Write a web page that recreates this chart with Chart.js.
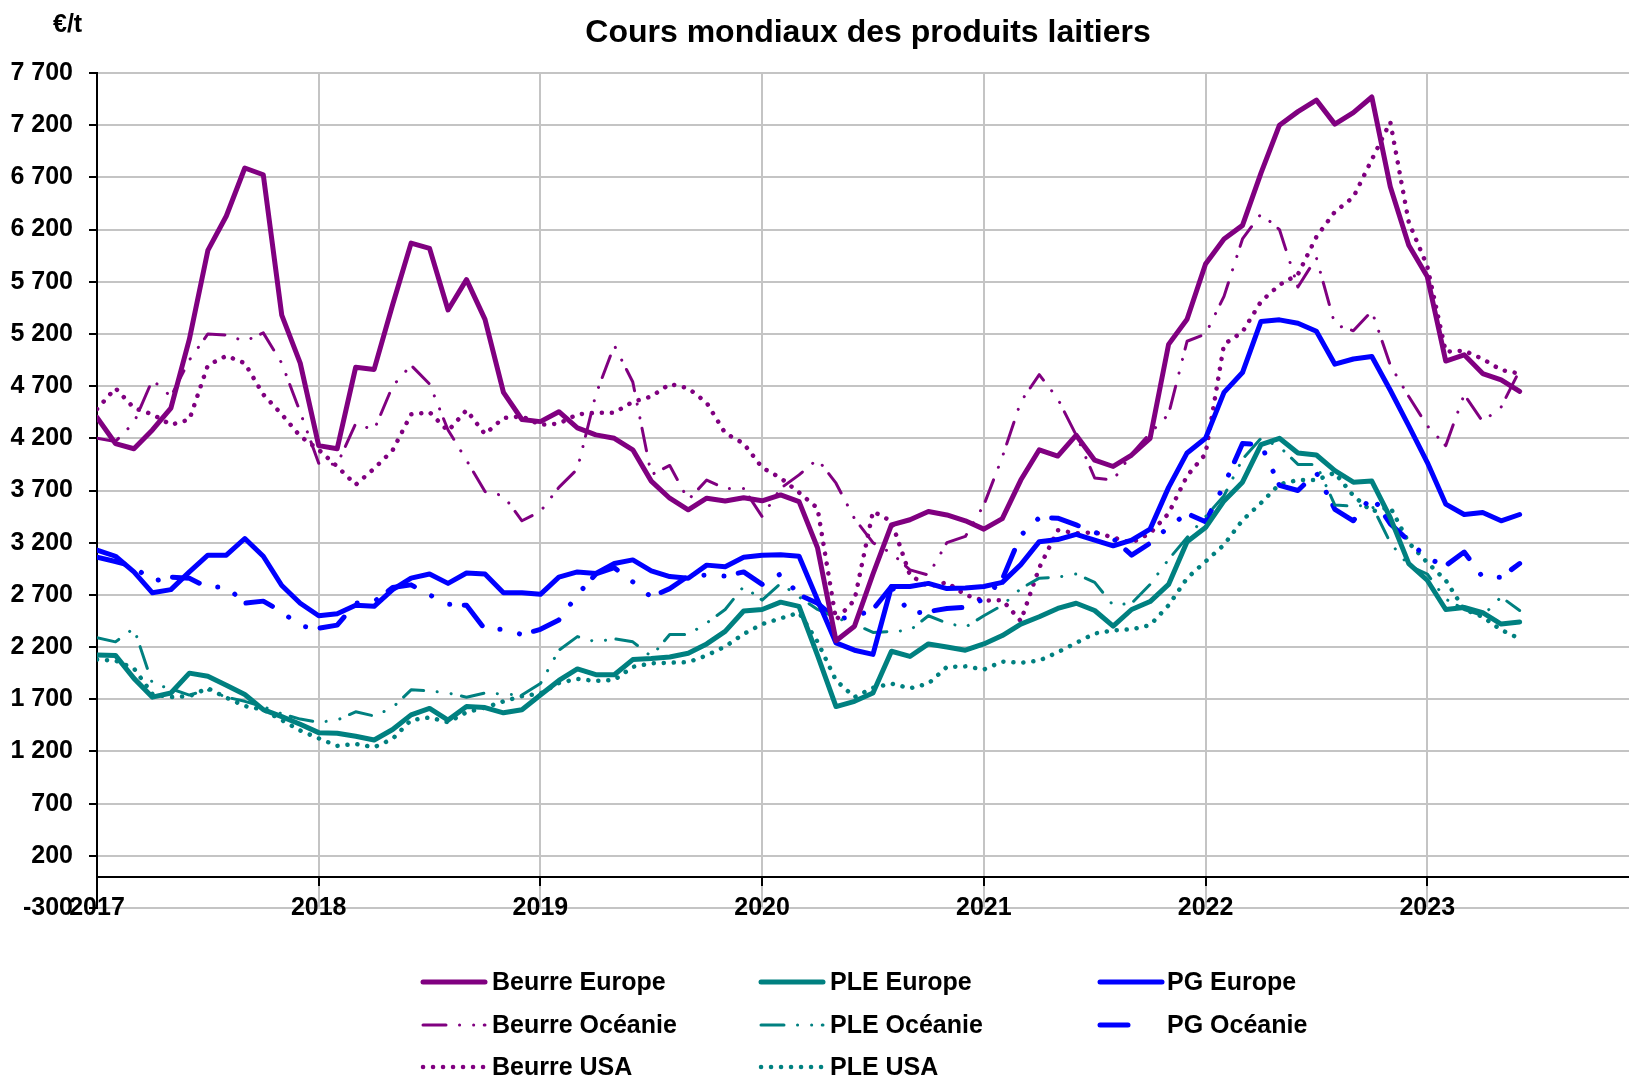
<!DOCTYPE html>
<html>
<head>
<meta charset="utf-8">
<script src="https://cdn.jsdelivr.net/npm/chart.js@4/dist/chart.umd.min.js"></script>
<style>
html,body{margin:0;padding:0;background:#fff;}
#wrap{width:1629px;height:1078px;position:relative;}
canvas{display:block;}
</style>
</head>
<body>
<div id="wrap"><canvas id="c" width="1629" height="1078"></canvas></div>
<script>
// ---------- DATA ----------
const months = [
  "2017-01","2017-02","2017-03","2017-04","2017-05","2017-06","2017-07","2017-08","2017-09","2017-10","2017-11","2017-12",
  "2018-01","2018-02","2018-03","2018-04","2018-05","2018-06","2018-07","2018-08","2018-09","2018-10","2018-11","2018-12",
  "2019-01","2019-02","2019-03","2019-04","2019-05","2019-06","2019-07","2019-08","2019-09","2019-10","2019-11","2019-12",
  "2020-01","2020-02","2020-03","2020-04","2020-05","2020-06","2020-07","2020-08","2020-09","2020-10","2020-11","2020-12",
  "2021-01","2021-02","2021-03","2021-04","2021-05","2021-06","2021-07","2021-08","2021-09","2021-10","2021-11","2021-12",
  "2022-01","2022-02","2022-03","2022-04","2022-05","2022-06","2022-07","2022-08","2022-09","2022-10","2022-11","2022-12",
  "2023-01","2023-02","2023-03","2023-04","2023-05","2023-06"
];
const yearTicks = [2017, 2018, 2019, 2020, 2021, 2022, 2023];
const yTickValues = [-300, 200, 700, 1200, 1700, 2200, 2700, 3200, 3700, 4200, 4700, 5200, 5700, 6200, 6700, 7200, 7700];

const beurreEurope = [
  4400,4150,4100,4280,4490,5150,6000,6330,6790,6725,5380,4920,
  4130,4100,4880,4860,5480,6070,6020,5430,5720,5340,4640,4380,
  4360,4455,4300,4233,4200,4090,3790,3626,3515,3626,3600,3630,
  3601,3658,3594,3150,2260,2400,2900,3370,3420,3498,3466,3410,
  3330,3430,3800,4090,4030,4230,3990,3930,4040,4200,5100,5340,
  5870,6110,6240,6740,7200,7330,7440,7210,7320,7470,6610,6050,
  5750,4940,5000,4820,4760,4650
];
const beurreOceanie = [
  4200,4170,4350,4760,4600,4950,5200,5190,5130,5210,4920,4450,
  3960,3950,4340,4280,4700,4900,4720,4280,3990,3690,3650,3410,
  3500,3730,3905,4620,5090,4740,3850,3940,3610,3800,3720,3720,
  3450,3720,3850,4000,3770,3430,3200,3100,2940,2890,3200,3260,
  3560,4020,4550,4810,4580,4230,3820,3800,4050,4250,4430,5130,
  5200,5560,6110,6350,6200,5650,5930,5290,5230,5420,4900,4600,
  4320,4130,4620,4360,4500,4850
];
const beurreUSA = [
  4480,4680,4490,4430,4330,4380,4900,4990,4920,4620,4430,4220,
  4090,3930,3755,3910,4085,4430,4450,4270,4470,4240,4395,4410,
  4330,4340,4430,4445,4445,4550,4600,4720,4680,4540,4250,4150,
  3920,3820,3680,3530,2460,2650,3500,3405,2890,2780,2820,2700,
  2645,2650,2450,2960,3320,3290,3300,3250,3200,3290,3480,3840,
  4050,5100,5220,5510,5670,5770,6130,6370,6510,6870,7230,6270,
  5850,5030,5040,4960,4855,4820
];
const pgEurope = [
  3130,3070,2920,2720,2750,2920,3080,3080,3240,3070,2790,2620,
  2500,2520,2600,2590,2750,2860,2900,2810,2910,2900,2720,2720,
  2705,2870,2920,2905,3000,3035,2930,2875,2860,2985,2970,3060,
  3080,3085,3070,2650,2240,2170,2130,2780,2780,2810,2760,2765,
  2780,2820,2990,3210,3230,3280,3225,3170,3225,3330,3730,4060,
  4200,4640,4830,5320,5335,5303,5225,4910,4960,4984,4660,4320,
  3970,3570,3470,3490,3410,3470
];
const pgOceanie = [
  3060,3020,2970,2830,2870,2860,2770,2780,2620,2640,2540,2400,
  2380,2410,2620,2636,2770,2796,2700,2610,2600,2370,2370,2320,
  2370,2460,2700,2900,2960,2825,2680,2760,2880,2890,2880,2920,
  2800,2900,2700,2620,2470,2490,2560,2780,2520,2540,2570,2580,
  2660,2850,3270,3440,3435,3370,3300,3240,3080,3195,3350,3480,
  3400,3750,4150,4140,3750,3700,3870,3520,3410,3650,3380,3220,
  3050,2980,3110,2870,2870,3000
];
const pleEurope = [
  2125,2120,1900,1720,1760,1950,1920,1835,1745,1600,1533,1460,
  1380,1375,1345,1310,1410,1550,1612,1500,1630,1620,1570,1600,
  1740,1880,1990,1935,1935,2080,2090,2105,2140,2230,2350,2545,
  2560,2630,2590,2120,1630,1680,1760,2160,2110,2230,2200,2170,
  2230,2310,2420,2490,2570,2620,2550,2400,2560,2636,2800,3210,
  3345,3600,3780,4140,4200,4060,4040,3890,3780,3790,3440,3000,
  2840,2560,2580,2530,2420,2440
];
const pleOceanie = [
  2290,2250,2380,1850,1800,1740,1790,1720,1680,1630,1560,1510,
  1480,1500,1580,1540,1620,1790,1780,1760,1720,1760,1750,1740,
  1850,2170,2300,2250,2280,2250,2110,2320,2320,2430,2560,2780,
  2650,2810,2680,2560,2480,2420,2340,2350,2360,2500,2430,2390,
  2500,2600,2760,2860,2870,2900,2820,2600,2620,2800,3040,3250,
  3450,3650,4000,4200,4120,3950,3950,3560,3550,3560,3200,2980,
  2900,2660,2560,2500,2680,2550
];
const pleUSA = [
  2080,2070,1995,1750,1720,1730,1805,1715,1635,1600,1500,1400,
  1325,1253,1272,1240,1320,1500,1525,1480,1575,1620,1680,1730,
  1755,1855,1895,1875,1885,2010,2045,2050,2055,2120,2205,2325,
  2420,2475,2530,2250,1880,1720,1810,1850,1805,1850,2010,2015,
  1985,2060,2050,2070,2150,2240,2330,2360,2370,2410,2600,2860,
  3020,3180,3415,3580,3760,3800,3800,3870,3650,3500,3540,3200,
  3010,2840,2560,2490,2365,2280
];

const titleText = "Cours mondiaux des produits laitiers";
const unitText = "€/t";

// ---------- STYLES ----------
const PURPLE = '#800080', TEAL = '#008080', BLUE = '#0000ff';
const FONT = "'Liberation Sans', Arial, Helvetica, sans-serif";
const FS = 25;

function toYear(m) {
  const [y, mo] = m.split('-').map(Number);
  return y + (mo - 1) / 12;
}
function series(values) {
  return months.map((m, i) => ({ x: toYear(m), y: values[i] }));
}
const styles = {
  solid:  { borderWidth: 5,   borderDash: [],                              borderCapStyle: 'round' },
  oce:    { borderWidth: 3,   borderDash: [23, 13.5, 0.1, 14, 0.1, 10.5],  borderCapStyle: 'round' },
  oceBig: { borderWidth: 5,   borderDash: [28, 19.5, 0.1, 20, 0.1, 14.5],  borderCapStyle: 'round' },
  dots:   { borderWidth: 4.5, borderDash: [0.1, 9.9],                      borderCapStyle: 'round' }
};
function ds(label, values, color, kind, legendLen) {
  return Object.assign({
    label, data: series(values), borderColor: color, backgroundColor: color,
    pointRadius: 0, pointHoverRadius: 0, tension: 0, fill: false,
    borderJoinStyle: 'round', legendLen: legendLen || 62
  }, styles[kind]);
}

const datasets = [
  ds('Beurre Europe', beurreEurope, PURPLE, 'solid'),
  ds('PLE Europe', pleEurope, TEAL, 'solid'),
  ds('PG Europe', pgEurope, BLUE, 'solid'),
  ds('Beurre Océanie', beurreOceanie, PURPLE, 'oce'),
  ds('PLE Océanie', pleOceanie, TEAL, 'oce'),
  ds('PG Océanie', pgOceanie, BLUE, 'oceBig', 39),
  ds('Beurre USA', beurreUSA, PURPLE, 'dots'),
  ds('PLE USA', pleUSA, TEAL, 'dots')
];

function fmt(v) {
  const s = String(Math.abs(v)).replace(/\B(?=(\d{3})+(?!\d))/g, ' ');
  return (v < 0 ? '-' : '') + s;
}

const textPlugin = {
  id: 'texts',
  afterDraw(chart) {
    const ctx = chart.ctx;
    ctx.save();
    ctx.fillStyle = '#000';
    ctx.font = 'bold 32px ' + FONT;
    ctx.textAlign = 'center';
    ctx.textBaseline = 'alphabetic';
    ctx.fillText(titleText, 868, 42);
    ctx.font = 'bold ' + FS + 'px ' + FONT;
    ctx.textAlign = 'left';
    ctx.fillText(unitText, 53, 32);

    // legend: 3 columns
    const colLine = [423, 761, 1100];
    const colText = [492, 830, 1167];
    const rowY = [982, 1025, 1067];
    chart.data.datasets.forEach((d, i) => {
      const c = i % 3, r = Math.floor(i / 3);
      const y = rowY[r];
      ctx.save();
      ctx.strokeStyle = d.borderColor;
      ctx.lineWidth = d.borderWidth;
      ctx.lineCap = d.borderCapStyle || 'butt';
      ctx.setLineDash(d.borderDash || []);
      ctx.beginPath();
      ctx.moveTo(colLine[c], y);
      ctx.lineTo(colLine[c] + d.legendLen, y);
      ctx.stroke();
      ctx.restore();
      ctx.fillStyle = '#000';
      ctx.font = 'bold ' + FS + 'px ' + FONT;
      ctx.textAlign = 'left';
      ctx.textBaseline = 'middle';
      ctx.fillText(d.label, colText[c], y + 1);
    });
    ctx.restore();
  }
};

new Chart(document.getElementById('c'), {
  type: 'line',
  data: { datasets },
  plugins: [textPlugin],
  options: {
    responsive: false,
    animation: false,
    devicePixelRatio: 1,
    events: [],
    layout: { padding: { top: 73, bottom: 170, left: 0, right: 0 } },
    plugins: { legend: { display: false }, title: { display: false }, tooltip: { enabled: false } },
    scales: {
      x: {
        type: 'linear',
        position: { y: 0 },
        bounds: 'data',
        min: 2017,
        max: 2023.91,
        afterBuildTicks: (s) => { s.ticks = yearTicks.map(v => ({ value: v })); },
        grid: { color: '#c4c4c4', lineWidth: 2, drawTicks: true, tickLength: 8, tickColor: '#000', tickWidth: 2 },
        border: { display: true, color: '#000', width: 2 },
        ticks: {
          autoSkip: false, maxRotation: 0, padding: 8, color: '#000',
          font: { family: FONT, size: FS, weight: 'bold' },
          callback: (v) => String(v)
        }
      },
      y: {
        type: 'linear',
        position: 'left',
        min: -300,
        max: 7700,
        afterBuildTicks: (s) => { s.ticks = yTickValues.map(v => ({ value: v })); },
        afterFit: (s) => { s.width = 97; },
        grid: { color: '#c4c4c4', lineWidth: 2, drawTicks: true, tickLength: 8, tickColor: '#000', tickWidth: 2 },
        border: { display: true, color: '#000', width: 2 },
        ticks: {
          padding: 16, color: '#000',
          font: { family: FONT, size: FS, weight: 'bold' },
          callback: (v) => fmt(v)
        }
      }
    }
  }
});
</script>
</body>
</html>
